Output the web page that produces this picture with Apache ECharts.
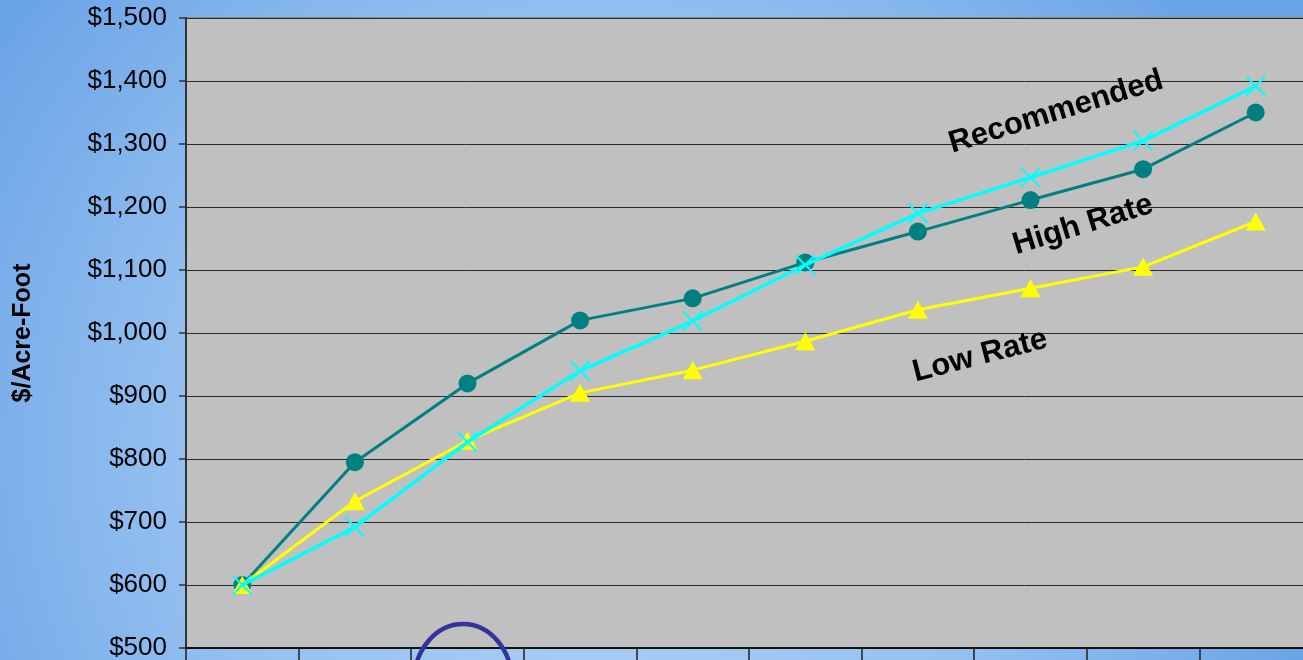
<!DOCTYPE html>
<html>
<head>
<meta charset="utf-8">
<script src="https://cdn.jsdelivr.net/npm/echarts@6/dist/echarts.min.js"></script>
<style>
  html, body { margin: 0; padding: 0; }
  #chart { width: 1303px; height: 660px; }
</style>
</head>
<body>
<div id="chart"></div>
<script>
// Cost per acre-foot over ten periods for three rate scenarios
var periods = ['1', '2', '3', '4', '5', '6', '7', '8', '9', '10'];
var recommended = [600, 692, 827, 940, 1019, 1108, 1190, 1247, 1305, 1392];
var highRate = [600, 795, 920, 1020, 1055, 1112, 1161, 1211, 1260, 1350];
var lowRate = [600, 733, 829, 905, 941, 987, 1037, 1071, 1105, 1177];
var yTicks = { min: 500, max: 1500, step: 100 };

var FONT = '"Liberation Sans", Arial, sans-serif';

function money(v) {
  return '$' + v.toString().replace(/\B(?=(\d{3})+(?!\d))/g, ',');
}

var chart = echarts.init(document.getElementById('chart'), null, { renderer: 'canvas' });

var xMark = 'path://M0,0L10,10M10,0L0,10';

var option = {
  animation: false,
  backgroundColor: {
    type: 'radial',
    x: 600, y: 450, r: 720,
    global: true,
    colorStops: [
      { offset: 0, color: '#b6d4f6' },
      { offset: 0.6, color: '#93bff0' },
      { offset: 1, color: '#6ca5e7' }
    ]
  },
  grid: {
    left: 186, top: 18, right: -9, bottom: 12,
    containLabel: false,
    outerBoundsMode: 'none',
    show: true,
    backgroundColor: '#c0c0c0',
    borderColor: '#8a8a8a',
    borderWidth: 2
  },
  xAxis: {
    type: 'category',
    data: periods,
    boundaryGap: true,
    axisLine: { show: true, lineStyle: { color: '#111', width: 2 } },
    axisTick: { show: true, interval: 0, length: 16, lineStyle: { color: '#222', width: 1.5 } },
    axisLabel: { show: false },
    splitLine: { show: false }
  },
  yAxis: {
    type: 'value',
    min: yTicks.min,
    max: yTicks.max,
    interval: yTicks.step,
    name: '$/Acre-Foot',
    nameLocation: 'middle',
    nameRotate: 90,
    nameGap: 150,
    nameTextStyle: { fontFamily: FONT, fontWeight: 'bold', fontSize: 25, color: '#000' },
    axisLine: { show: true, lineStyle: { color: '#333', width: 2 } },
    axisTick: { show: true, length: 7, lineStyle: { color: '#333', width: 1.5 } },
    axisLabel: {
      margin: 19,
      fontFamily: FONT,
      fontSize: 26,
      color: '#000',
      formatter: function (v) { return money(v); }
    },
    splitLine: { show: true, lineStyle: { color: '#2a2a2a', width: 1 } }
  },
  series: [
    {
      name: 'High Rate',
      type: 'line',
      data: highRate,
      symbol: 'circle',
      symbolSize: 18,
      lineStyle: { color: '#008080', width: 3 },
      itemStyle: { color: '#008080' },
      z: 2
    },
    {
      name: 'Low Rate',
      type: 'line',
      data: lowRate,
      symbol: 'triangle',
      symbolSize: [20, 18],
      lineStyle: { color: '#ffff00', width: 3 },
      itemStyle: { color: '#ffff00' },
      z: 3
    },
    {
      name: 'Recommended',
      type: 'line',
      data: recommended,
      symbol: xMark,
      symbolSize: 19,
      lineStyle: { color: '#00ffff', width: 3.5 },
      itemStyle: { color: 'none', borderColor: '#00ffff', borderWidth: 2 },
      z: 4
    }
  ],
  graphic: [
    {
      type: 'text', x: 1056, y: 112, rotation: 17 * Math.PI / 180, z: 100,
      style: { text: 'Recommended', font: 'bold 31px ' + FONT, fill: '#000', align: 'center', verticalAlign: 'middle' }
    },
    {
      type: 'text', x: 1083, y: 225, rotation: 17 * Math.PI / 180, z: 100,
      style: { text: 'High Rate', font: 'bold 31px ' + FONT, fill: '#000', align: 'center', verticalAlign: 'middle' }
    },
    {
      type: 'text', x: 980, y: 356, rotation: 14.5 * Math.PI / 180, z: 100,
      style: { text: 'Low Rate', font: 'bold 31px ' + FONT, fill: '#000', align: 'center', verticalAlign: 'middle' }
    },
    {
      type: 'ellipse', z: 100,
      shape: { cx: 463, cy: 682, rx: 49, ry: 58 },
      style: { fill: 'none', stroke: '#333399', lineWidth: 4.5 }
    }
  ]
};

chart.setOption(option);
</script>
</body>
</html>
